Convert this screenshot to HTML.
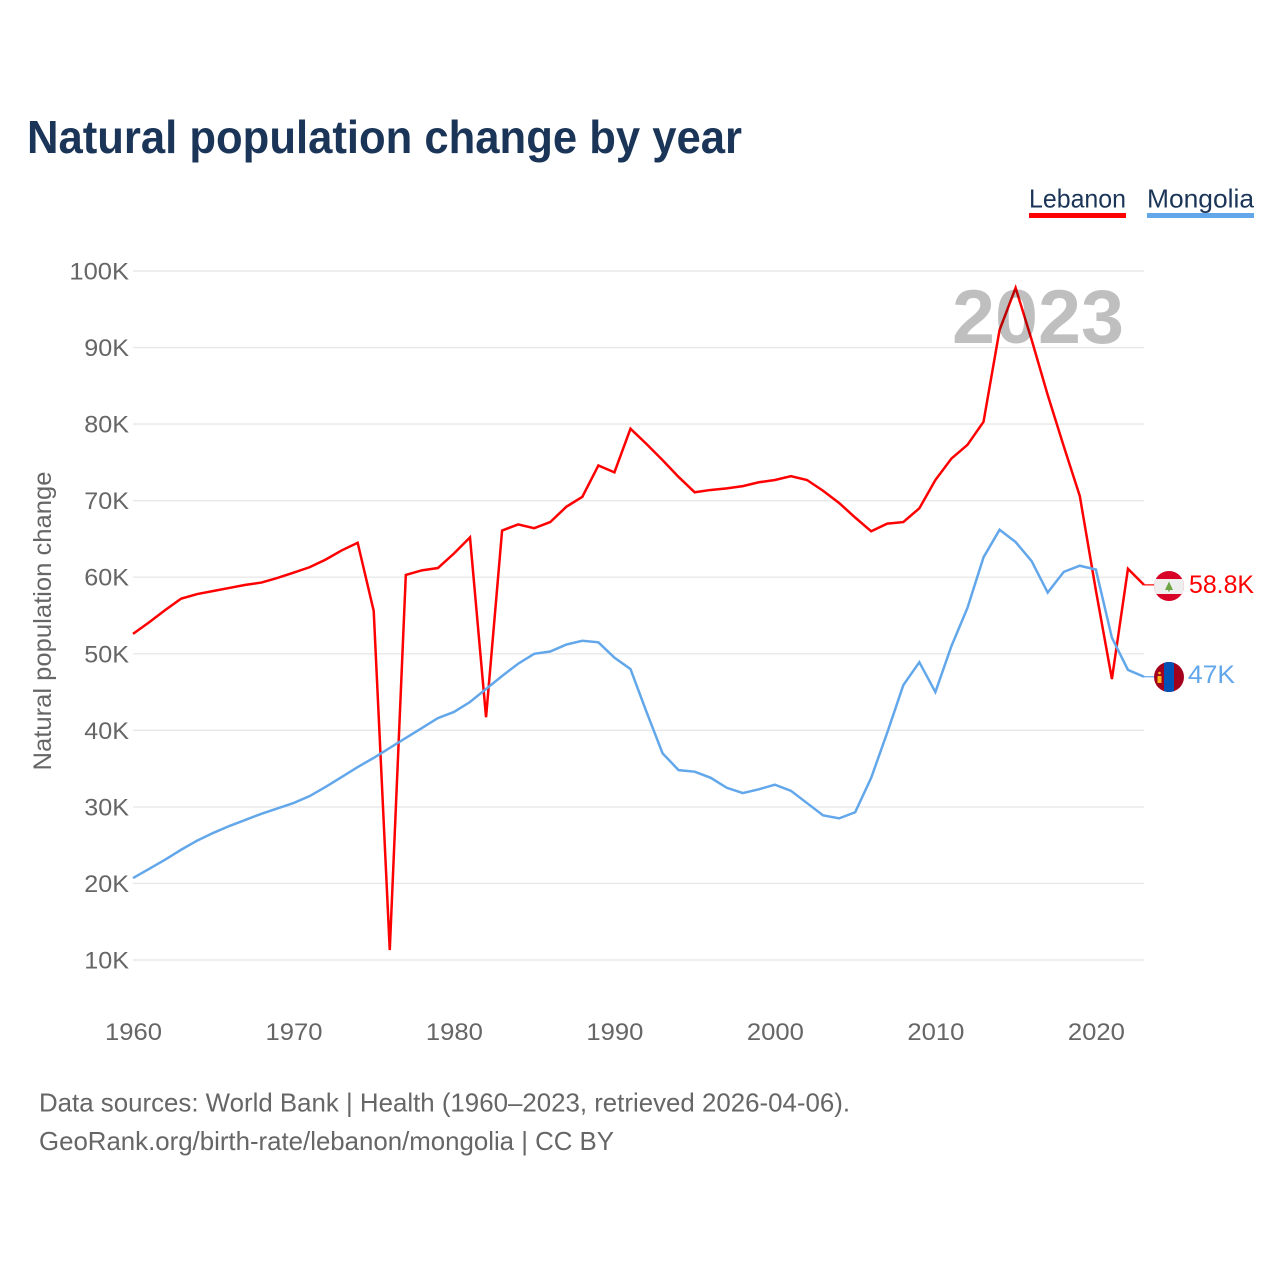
<!DOCTYPE html>
<html lang="en">
<head>
<meta charset="utf-8">
<title>Natural population change by year</title>
<style>
html,body{margin:0;padding:0;background:#fff;}
svg{display:block;font-family:"Liberation Sans",sans-serif;}
</style>
</head>
<body>
<svg id="chart" xmlns="http://www.w3.org/2000/svg" width="1280" height="1280" viewBox="0 0 1280 1280">
  <text x="27" y="153" font-size="46" font-weight="700" fill="#1a3557" textLength="715" lengthAdjust="spacingAndGlyphs">Natural population change by year</text>

  <g>
    <g>
      <text x="1029" y="207.5" font-size="26" fill="#1a3557" textLength="97" lengthAdjust="spacingAndGlyphs">Lebanon</text>
      <rect x="1029" y="213" width="97" height="5" fill="#ff0000"/>
    </g>
    <g>
      <text x="1147" y="207.5" font-size="26" fill="#1a3557" textLength="107" lengthAdjust="spacingAndGlyphs">Mongolia</text>
      <rect x="1147" y="213" width="107" height="5" fill="#63a7eb"/>
    </g>
  </g>

  <g id="grid"></g>
  <g id="yTicks"></g>
  <g id="xTicks"></g>
  <text transform="translate(51 621) rotate(-90)" text-anchor="middle" font-size="25" fill="#666666" textLength="299" lengthAdjust="spacingAndGlyphs">Natural population change</text>

  <g id="series"></g>

  <text x="952" y="343" font-size="76" font-weight="700" fill="#000000" fill-opacity="0.25" textLength="172" lengthAdjust="spacingAndGlyphs">2023</text>

  <g id="flagLebanon">
    <clipPath id="clipLb"><circle cx="1169" cy="586" r="15"/></clipPath>
    <g clip-path="url(#clipLb)">
      <rect x="1154" y="571" width="30" height="30" fill="#d80027"/>
      <rect x="1154" y="579" width="30" height="15" fill="#eeeeee"/>
      <polygon points="1169,581.5 1173,590 1165,590" fill="#6da544"/>
      <rect x="1168.3" y="589" width="1.4" height="2.5" fill="#6da544"/>
    </g>
  </g>
  <g id="flagMongolia">
    <clipPath id="clipMn"><circle cx="1169" cy="677" r="15"/></clipPath>
    <g clip-path="url(#clipMn)">
      <rect x="1154" y="662" width="30" height="30" fill="#a2001d"/>
      <rect x="1164" y="662" width="10" height="30" fill="#0052b4"/>
      <rect x="1157.5" y="676" width="4" height="7" fill="#ffb81c"/>
      <circle cx="1159.5" cy="673" r="1.3" fill="#ffb81c"/>
    </g>
  </g>

  <text x="1189" y="593" font-size="25" fill="#ff0000" textLength="65" lengthAdjust="spacingAndGlyphs">58.8K</text>
  <text x="1188" y="683" font-size="25" fill="#63a7eb" textLength="47" lengthAdjust="spacingAndGlyphs">47K</text>

  <g>
    <text x="39" y="1111.5" font-size="26" fill="#666666" textLength="811" lengthAdjust="spacingAndGlyphs">Data sources: World Bank | Health (1960–2023, retrieved 2026-04-06).</text>
    <text x="39" y="1150" font-size="26" fill="#666666" textLength="575" lengthAdjust="spacingAndGlyphs">GeoRank.org/birth-rate/lebanon/mongolia | CC BY</text>
  </g>
</svg>
<script>
const firstYear = 1960;
const lebanon = [52.6,54.1,55.7,57.2,57.8,58.2,58.6,59.0,59.3,59.9,60.6,61.3,62.3,63.5,64.5,55.6,11.3,60.3,60.9,61.2,63.1,65.2,41.7,66.1,66.9,66.4,67.2,69.2,70.5,74.6,73.7,79.4,77.4,75.3,73.1,71.1,71.4,71.6,71.9,72.4,72.7,73.2,72.7,71.3,69.7,67.8,66.0,67.0,67.2,69.0,72.7,75.5,77.3,80.3,92.3,97.8,91.0,83.8,77.1,70.6,58.3,46.7,61.1,59.0];
const mongolia = [20.7,21.9,23.1,24.4,25.6,26.6,27.5,28.3,29.1,29.8,30.5,31.4,32.6,33.9,35.2,36.4,37.7,39.0,40.3,41.6,42.4,43.7,45.4,47.1,48.7,50.0,50.3,51.2,51.7,51.5,49.5,48.0,42.4,37.0,34.8,34.6,33.8,32.5,31.8,32.3,32.9,32.1,30.5,28.9,28.5,29.3,33.8,39.7,45.9,48.9,45.0,51.0,56.0,62.6,66.2,64.6,62.1,58.0,60.7,61.5,61.0,52.1,47.9,47.0];
const yTickValues = [10,20,30,40,50,60,70,80,90,100];
const yTickLabels = ['10K','20K','30K','40K','50K','60K','70K','80K','90K','100K'];
const xTickValues = [1960,1970,1980,1990,2000,2010,2020];
const xTickLabels = ['1960','1970','1980','1990','2000','2010','2020'];

const NS = 'http://www.w3.org/2000/svg';
const plotLeft = 133, plotRight = 1144, yearSpan = 63;
const yTop = 271, yBottom = 960, vTop = 100, vBottom = 10;

function xScale(year) { return plotLeft + (year - firstYear) * (plotRight - plotLeft) / yearSpan; }
function yScale(v) { return yBottom - (v - vBottom) * (yBottom - yTop) / (vTop - vBottom); }

const grid = document.getElementById('grid');
const yTicks = document.getElementById('yTicks');
const xTicks = document.getElementById('xTicks');
const seriesGroup = document.getElementById('series');

yTickValues.forEach(function (v, i) {
  const line = document.createElementNS(NS, 'line');
  
  
  line.setAttribute('x1', plotLeft);
  line.setAttribute('x2', plotRight);
  line.setAttribute('y1', yScale(v));
  line.setAttribute('y2', yScale(v));
  line.setAttribute('stroke', '#e8e8e8');
  line.setAttribute('stroke-width', '1.4');
  grid.appendChild(line);

  const t = document.createElementNS(NS, 'text');
  
  
  t.setAttribute('x', 129);
  t.setAttribute('y', yScale(v) + 8.5);
  t.setAttribute('text-anchor', 'end');
  t.setAttribute('font-size', '24');
  t.setAttribute('fill', '#666666');
  t.setAttribute('textLength', yTickLabels[i].length * 14.9);
  t.setAttribute('lengthAdjust', 'spacingAndGlyphs');
  t.textContent = yTickLabels[i];
  yTicks.appendChild(t);
});

xTickValues.forEach(function (year, i) {
  const t = document.createElementNS(NS, 'text');
  
  
  t.setAttribute('x', xScale(year) + 0.5);
  t.setAttribute('y', 1040);
  t.setAttribute('text-anchor', 'middle');
  t.setAttribute('font-size', '24');
  t.setAttribute('fill', '#666666');
  t.setAttribute('textLength', 57);
  t.setAttribute('lengthAdjust', 'spacingAndGlyphs');
  t.textContent = xTickLabels[i];
  xTicks.appendChild(t);
});

function linePoints(values) {
  return values.map(function (v, i) {
    return xScale(firstYear + i).toFixed(2) + ',' + yScale(v).toFixed(2);
  }).join(' ');
}

const lebanonLine = document.createElementNS(NS, 'polyline');


lebanonLine.setAttribute('points', linePoints(lebanon));
lebanonLine.setAttribute('fill', 'none');
lebanonLine.setAttribute('stroke', '#ff0000');
lebanonLine.setAttribute('stroke-width', '2.5');
lebanonLine.setAttribute('stroke-linejoin', 'miter');
seriesGroup.appendChild(lebanonLine);

const mongoliaLine = document.createElementNS(NS, 'polyline');


mongoliaLine.setAttribute('points', linePoints(mongolia));
mongoliaLine.setAttribute('fill', 'none');
mongoliaLine.setAttribute('stroke', '#63a7eb');
mongoliaLine.setAttribute('stroke-width', '2.5');
seriesGroup.appendChild(mongoliaLine);

const lebanonLeader = document.createElementNS(NS, 'line');


lebanonLeader.setAttribute('x1', plotRight);
lebanonLeader.setAttribute('x2', 1154);
lebanonLeader.setAttribute('y1', yScale(lebanon[lebanon.length - 1]));
lebanonLeader.setAttribute('y2', yScale(lebanon[lebanon.length - 1]));
lebanonLeader.setAttribute('stroke', '#ff0000');
lebanonLeader.setAttribute('stroke-width', '1.2');
seriesGroup.appendChild(lebanonLeader);

const mongoliaLeader = document.createElementNS(NS, 'line');


mongoliaLeader.setAttribute('x1', plotRight);
mongoliaLeader.setAttribute('x2', 1154);
mongoliaLeader.setAttribute('y1', yScale(mongolia[mongolia.length - 1]));
mongoliaLeader.setAttribute('y2', yScale(mongolia[mongolia.length - 1]));
mongoliaLeader.setAttribute('stroke', '#63a7eb');
mongoliaLeader.setAttribute('stroke-width', '1.2');
seriesGroup.appendChild(mongoliaLeader);
</script>
</body>
</html>
